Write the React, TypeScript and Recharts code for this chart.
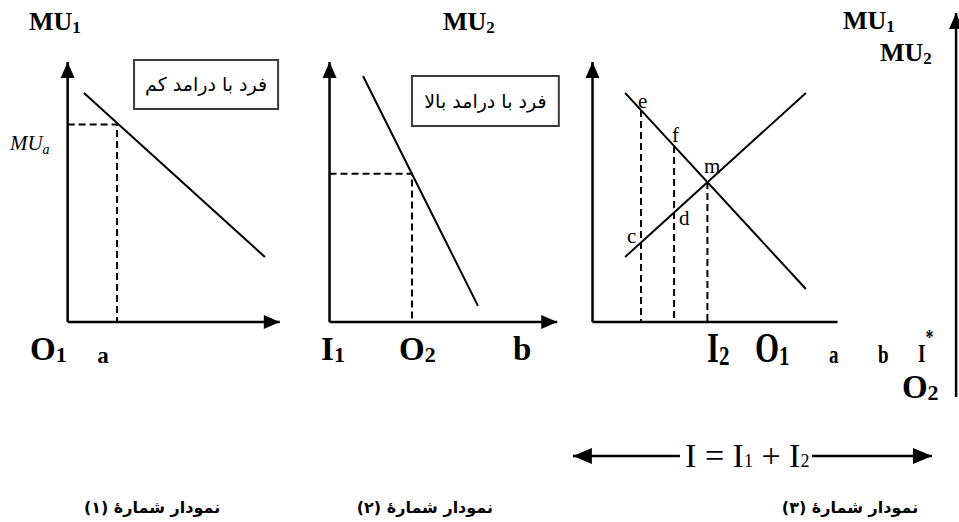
import React from "react";
import { ComposedChart, Line, Scatter, XAxis, YAxis, ReferenceArea } from "recharts";

type Pt = { x: number; y: number };
type Tag = { x: number; y: number; text: string; kind: string };
type Head = { x: number; y: number; dir: "up" | "right" | "left"; kind: "axis" | "span" };
type Box = { x1: number; x2: number; y1: number; y2: number; text: string };

// ---------- graph 1 : low income person ----------
const p1Axes: Pt[][] = [
  [{ x: 0, y: 0 }, { x: 0, y: 10 }],
  [{ x: 0, y: 0 }, { x: 10, y: 0 }],
];
const p1Curve: Pt[] = [{ x: 0.77, y: 8.81 }, { x: 9.3, y: 2.5 }];
const p1Guides: Pt[][] = [[{ x: 0, y: 7.6 }, { x: 2.33, y: 7.6 }, { x: 2.33, y: 0 }]];
const p1Heads: Head[] = [
  { x: 0, y: 10, dir: "up", kind: "axis" },
  { x: 10, y: 0, dir: "right", kind: "axis" },
];
const p1Box: Box = { x1: 3.13, x2: 9.92, y1: 8.19, y2: 10.08, text: "فرد با درامد کم" };
const p1Tags: Tag[] = [
  { x: -1.82, y: 11.23, text: "MU_1", kind: "title" },
  { x: -2.72, y: 6.62, text: "MU_a", kind: "ital" },
  { x: -1.77, y: -1.46, text: "O_1", kind: "big" },
  { x: 1.39, y: -1.58, text: "a", kind: "small" },
  { x: 3.98, y: -7.35, text: "نمودار شمارهٔ (۱)", kind: "caption" },
];

// ---------- graph 2 : high income person ----------
const p2Axes: Pt[][] = [
  [{ x: 0, y: 0 }, { x: 0, y: 10 }],
  [{ x: 0, y: 0 }, { x: 10, y: 0 }],
];
const p2Curve: Pt[] = [{ x: 1.47, y: 9.46 }, { x: 6.52, y: 0.62 }];
const p2Guides: Pt[][] = [[{ x: 0, y: 5.7 }, { x: 3.62, y: 5.7 }, { x: 3.62, y: 0 }]];
const p2Heads: Head[] = [
  { x: 0, y: 10, dir: "up", kind: "axis" },
  { x: 10, y: 0, dir: "right", kind: "axis" },
];
const p2Box: Box = { x1: 3.62, x2: 10.07, y1: 7.54, y2: 9.46, text: "فرد با درامد بالا" };
const p2Tags: Tag[] = [
  { x: 4.98, y: 11.23, text: "MU_2", kind: "title" },
  { x: -0.37, y: -1.46, text: "I_1", kind: "big" },
  { x: 3.05, y: -1.46, text: "O_2", kind: "big" },
  { x: 8.06, y: -1.46, text: "b", kind: "big" },
  { x: 4.19, y: -7.35, text: "نمودار شمارهٔ (۲)", kind: "caption" },
];

// ---------- graph 3 : both together ----------
const p3Axes: Pt[][] = [
  [{ x: 0, y: 0 }, { x: 0, y: 10 }],
  [{ x: 0, y: 0 }, { x: 10, y: 0 }],
  [{ x: 14.84, y: -2.88 }, { x: 14.84, y: 11.88 }],
  [{ x: -0.8, y: -5.15 }, { x: 3.57, y: -5.15 }],
  [{ x: 8.96, y: -5.15 }, { x: 13.86, y: -5.15 }],
];
const mu1Curve: Pt[] = [{ x: 1.33, y: 8.81 }, { x: 8.71, y: 1.27 }];
const mu2Curve: Pt[] = [{ x: 1.33, y: 2.5 }, { x: 8.71, y: 8.81 }];
const p3Guides: Pt[][] = [
  [{ x: 1.98, y: 8.15 }, { x: 1.98, y: 0 }],
  [{ x: 3.33, y: 6.77 }, { x: 3.33, y: 0 }],
  [{ x: 4.69, y: 5.38 }, { x: 4.69, y: 0 }],
];
const p3Heads: Head[] = [
  { x: 0, y: 10, dir: "up", kind: "axis" },
  { x: 14.84, y: 11.88, dir: "up", kind: "axis" },
  { x: -0.8, y: -5.15, dir: "left", kind: "span" },
  { x: 13.86, y: -5.15, dir: "right", kind: "span" },
];
const p3Tags: Tag[] = [
  { x: 1.86, y: 8.23, text: "e", kind: "point" },
  { x: 3.24, y: 6.92, text: "f", kind: "point" },
  { x: 4.55, y: 5.73, text: "m", kind: "point" },
  { x: 3.53, y: 3.73, text: "d", kind: "point" },
  { x: 1.41, y: 3.04, text: "c", kind: "point" },
  { x: 4.67, y: -1.54, text: "I_2", kind: "big3" },
  { x: 6.63, y: -1.54, text: "O_1", kind: "big3" },
  { x: 9.65, y: -1.58, text: "a", kind: "small3" },
  { x: 11.65, y: -1.58, text: "b", kind: "small3" },
  { x: 13.29, y: -1.54, text: "I^*", kind: "small3" },
  { x: 12.63, y: -2.93, text: "O_2", kind: "big" },
  { x: 10.22, y: 11.27, text: "MU_1", kind: "title" },
  { x: 11.73, y: 10.04, text: "MU_2", kind: "title" },
  { x: 3.78, y: -5.58, text: "I = I_1 + I_2", kind: "eq" },
  { x: 10.51, y: -7.35, text: "نمودار شمارهٔ (۳)", kind: "caption" },
];

const SERIF = '"Liberation Serif", "DejaVu Serif", serif';
const tagStyles: Record<string, any> = {
  title: { size: 26, weight: 700, sub: 17, subDy: 3 },
  ital: { size: 21, style: "italic", sub: 14, subDy: 4 },
  big: { size: 33, weight: 700, sub: 22, subDy: 2 },
  small: { size: 23, weight: 700 },
  big3: { size: 31, weight: 700, sub: 21, subDy: 2, stretch: 1.35 },
  small3: { size: 19, weight: 700, stretch: 1.3, sup: 16, supDy: -14 },
  point: { size: 21 },
  eq: { size: 34, sub: 18, subDy: 0 },
  caption: { size: 16, weight: 700, font: '"DejaVu Sans", sans-serif', anchor: "middle", rtl: true },
};

const TagShape = (props: any) => {
  const { cx, cy, payload } = props;
  const st = tagStyles[payload.kind];
  const parts: string[] = payload.text.split(/([_^].)/).filter(Boolean);
  let shift = 0;
  return (
    <text
      x={cx}
      y={cy}
      fill="#000"
      fontFamily={st.font || SERIF}
      fontSize={st.size}
      fontWeight={st.weight || 400}
      fontStyle={st.style || "normal"}
      textAnchor={st.anchor || "start"}
      direction={st.rtl ? "rtl" : undefined}
      style={{ whiteSpace: "pre" }}
      transform={st.stretch ? `translate(${cx} ${cy}) scale(1 ${st.stretch}) translate(${-cx} ${-cy})` : undefined}
    >
      {parts.map((p, i) => {
        const isSub = p[0] === "_" && p.length === 2;
        const isSup = p[0] === "^" && p.length === 2;
        const target = isSub ? st.subDy || 0 : isSup ? st.supDy || 0 : 0;
        const dy = target - shift;
        shift = target;
        return (
          <tspan key={i} dy={dy} fontSize={isSub ? st.sub : isSup ? st.sup : st.size}>
            {isSub || isSup ? p[1] : p}
          </tspan>
        );
      })}
    </text>
  );
};

const HeadShape = (props: any) => {
  const { cx, cy, payload } = props;
  const L = payload.kind === "span" ? 19 : 16;
  const W = payload.kind === "span" ? 8 : 7;
  let pts = "";
  if (payload.dir === "up") pts = `${cx},${cy} ${cx - W},${cy + L} ${cx + W},${cy + L}`;
  if (payload.dir === "right") pts = `${cx},${cy} ${cx - L},${cy - W} ${cx - L},${cy + W}`;
  if (payload.dir === "left") pts = `${cx},${cy} ${cx + L},${cy - W} ${cx + L},${cy + W}`;
  return <polygon points={pts} fill="#000" />;
};

const boxLabel = (text: string) => (props: any) => {
  const vb = props.viewBox;
  return (
    <text
      x={vb.x + vb.width / 2}
      y={vb.y + vb.height / 2 + 7}
      textAnchor="middle"
      direction="rtl"
      fontFamily='"DejaVu Sans", sans-serif'
      fontSize={19}
      fill="#000"
    >
      {text}
    </text>
  );
};

type PanelProps = {
  left: number;
  width: number;
  xDomain: [number, number];
  axes: Pt[][];
  curves: Pt[][];
  guides: Pt[][];
  heads: Head[];
  tags: Tag[];
  box?: Box;
};

function Panel({ left, width, xDomain, axes, curves, guides, heads, tags, box }: PanelProps) {
  return (
    <div style={{ position: "absolute", left, top: -3 }}>
      <ComposedChart width={width} height={533} margin={{ top: 0, right: 0, bottom: 0, left: 0 }}>
        <XAxis type="number" dataKey="x" domain={xDomain} allowDataOverflow hide />
        <YAxis type="number" dataKey="y" domain={[-8, 12.5]} allowDataOverflow hide />
        {box && (
          <ReferenceArea
            x1={box.x1}
            x2={box.x2}
            y1={box.y1}
            y2={box.y2}
            fill="#fff"
            fillOpacity={1}
            stroke="#3a3a3a"
            strokeWidth={2}
            label={boxLabel(box.text)}
          />
        )}
        {axes.map((d, i) => (
          <Line key={"a" + i} data={d} dataKey="y" type="linear" stroke="#000" strokeWidth={2.5}
            dot={false} activeDot={false} isAnimationActive={false} legendType="none" />
        ))}
        {guides.map((d, i) => (
          <Line key={"g" + i} data={d} dataKey="y" type="linear" stroke="#000" strokeWidth={2}
            strokeDasharray="7 4" dot={false} activeDot={false} isAnimationActive={false} legendType="none" />
        ))}
        {curves.map((d, i) => (
          <Line key={"c" + i} data={d} dataKey="y" type="linear" stroke="#000" strokeWidth={2}
            dot={false} activeDot={false} isAnimationActive={false} legendType="none" />
        ))}
        <Scatter data={heads} shape={HeadShape} isAnimationActive={false} legendType="none" />
        <Scatter data={tags} shape={TagShape} isAnimationActive={false} legendType="none" />
      </ComposedChart>
    </div>
  );
}

export default function App() {
  return (
    <div style={{ position: "absolute", left: 0, top: 0, width: 959, height: 522, overflow: "hidden", background: "#fff" }}>
      <Panel left={4} width={297} xDomain={[-3, 11]} axes={p1Axes} curves={[p1Curve]}
        guides={p1Guides} heads={p1Heads} tags={p1Tags} box={p1Box} />
      <Panel left={284} width={296} xDomain={[-2, 11]} axes={p2Axes} curves={[p2Curve]}
        guides={p2Guides} heads={p2Heads} tags={p2Tags} box={p2Box} />
      <Panel left={568} width={392} xDomain={[-1, 15]} axes={p3Axes} curves={[mu1Curve, mu2Curve]}
        guides={p3Guides} heads={p3Heads} tags={p3Tags} />
    </div>
  );
}
